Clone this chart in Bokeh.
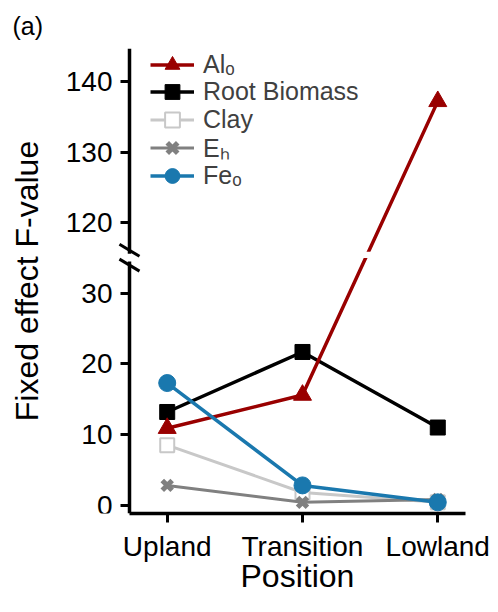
from bokeh.plotting import figure
from bokeh.models import Range1d, FixedTicker, Legend, LegendItem, BoxAnnotation, Arrow, Title
from bokeh.embed import file_html
from bokeh.resources import INLINE

# ---- data -------------------------------------------------------------
positions = ["Upland", "Transition", "Lowland"]
al_o = [10.9, 15.6, 137.2]
root_biomass = [13.2, 21.7, 11.0]
clay = [8.5, 1.8, 0.4]
e_h = [2.8, 0.4, 0.8]
fe_o = [17.3, 2.8, 0.4]
lower_ticks = [0, 10, 20, 30]
upper_ticks = [120, 130, 140]

GAP = 80      # values above the break are drawn shifted down by this amount
BREAK = 35    # drawn value at which the axis is broken


def shown(vals):
    return [v - GAP if v > BREAK else v for v in vals]


xs = list(range(len(positions)))

FONT = "Liberation Sans"
RED = "#990000"
BLUE = "#1a78ae"
LGRAY = "#c8c8c8"
MGRAY = "#808080"

XA = -0.279            # where the y axis sits
X0, X1 = -1.2324, 2.205
Y0, Y1 = -1.18, 64.69
FRAME_H = 465

p = figure(width=498, height=612, output_backend="svg", toolbar_location=None,
           x_range=Range1d(X0, X1), y_range=Range1d(Y0, Y1),
           min_border_left=0, min_border_right=33, min_border_top=48,
           min_border_bottom=99)
p.grid.visible = False
p.outline_line_color = None
p.background_fill_color = "white"
p.border_fill_color = "white"

# ---- title "(a)" --------------------------------------------------------
p.title.text = "(a)"
p.title.text_font = FONT
p.title.text_font_size = "25px"
p.title.text_font_style = "normal"
p.title.align = "left"
p.title.offset = 12
p.title.standoff = 18
p.title.text_color = "black"

# ---- axes -------------------------------------------------------------
for ax in (p.xaxis[0], p.yaxis[0]):
    ax.axis_line_width = 3.5
    ax.axis_line_color = "black"
    ax.major_tick_line_width = 3
    ax.major_tick_out = 9
    ax.major_tick_in = 0
    ax.minor_tick_out = 0
    ax.minor_tick_in = 0
    ax.major_label_text_font = FONT
    ax.major_label_text_font_size = "28px"
    ax.major_label_text_color = "black"
    ax.axis_label_text_font = FONT
    ax.axis_label_text_font_size = "32px"
    ax.axis_label_text_font_style = "normal"
    ax.axis_label_text_color = "black"

p.xaxis.ticker = FixedTicker(ticks=xs)
p.xaxis.major_label_overrides = {i: name for i, name in zip(xs, positions)}
p.xaxis.major_label_standoff = 8
p.xaxis.bounds = (XA, X1)

# x-axis title, centred under the visible axis line
p.add_layout(Title(text="Position", align="left", offset=240, standoff=-18,
                   text_font=FONT, text_font_size="32px", text_font_style="normal",
                   text_color="black"), "below")

ytick_pos = lower_ticks + [t - GAP for t in upper_ticks]
ytick_lab = [str(t) for t in lower_ticks + upper_ticks]
p.yaxis.ticker = FixedTicker(ticks=ytick_pos)
p.yaxis.major_label_overrides = {pos: lab for pos, lab in zip(ytick_pos, ytick_lab)}
p.yaxis.axis_label = "Fixed effect F-value"
p.yaxis.major_label_standoff = 8
p.yaxis.axis_label_standoff = 18
p.yaxis.fixed_location = XA

# ---- series -----------------------------------------------------------
series = [
    ("Clay", clay, LGRAY, 3, dict(marker="square", size=14, fill_color="white",
                                   line_color=LGRAY, line_width=2)),
    ("Eₕ", e_h, MGRAY, 3, dict(marker="x", size=14, line_color=MGRAY, line_width=5)),
    ("Root Biomass", root_biomass, "black", 3.5, dict(marker="square", size=15,
                                                      fill_color="black", line_color="black")),
    ("Alₒ", al_o, RED, 3.5, dict(marker="triangle", size=18, fill_color=RED, line_color=RED)),
    ("Feₒ", fe_o, BLUE, 3.5, dict(marker="circle", size=17, fill_color=BLUE, line_color=BLUE)),
]

items = {}
for label, vals, color, lw, mk in series:
    ys = shown(vals)
    lr = p.line(xs, ys, line_color=color, line_width=lw)
    sr = p.scatter(xs, ys, **mk)
    items[label] = LegendItem(label=label, renderers=[lr, sr])

# one legend per entry so the rows can sit as tightly as in the original
legend_order = ["Alₒ", "Root Biomass", "Clay", "Eₕ", "Feₒ"]
ITEM_H = 37
ROW0, ROW_STEP = 16, 27.8   # row centres below the frame top (px)
for i, key in enumerate(legend_order):
    centre = ROW0 + i * ROW_STEP
    lg = Legend(items=[items[key]],
                location=(150, FRAME_H - centre - ITEM_H / 2),
                glyph_width=44, glyph_height=ITEM_H, label_height=ITEM_H, spacing=0,
                label_standoff=9, label_text_font=FONT, label_text_font_size="25px",
                label_text_color="#404040",
                border_line_color=None, background_fill_alpha=0,
                padding=0, margin=0)
    p.add_layout(lg)

# ---- axis break decoration ---------------------------------------------
p.add_layout(BoxAnnotation(left=XA + 0.05, bottom=BREAK, top=BREAK + 0.9,
                           fill_color="white", fill_alpha=1, line_color=None,
                           level="overlay"))
p.add_layout(Arrow(end=None, x_start=XA, y_start=BREAK - 0.5, x_end=XA,
                   y_end=BREAK + 0.6, line_color="white", line_width=7,
                   level="overlay"))
dx, dy = 0.074, 0.85
for cy in (BREAK + 1.1, BREAK - 1.0):
    p.add_layout(Arrow(end=None, x_start=XA - dx, y_start=cy + dy, x_end=XA + dx,
                       y_end=cy - dy, line_color="black", line_width=3,
                       level="overlay"))

open("out.html", "w").write(file_html(p, INLINE))
